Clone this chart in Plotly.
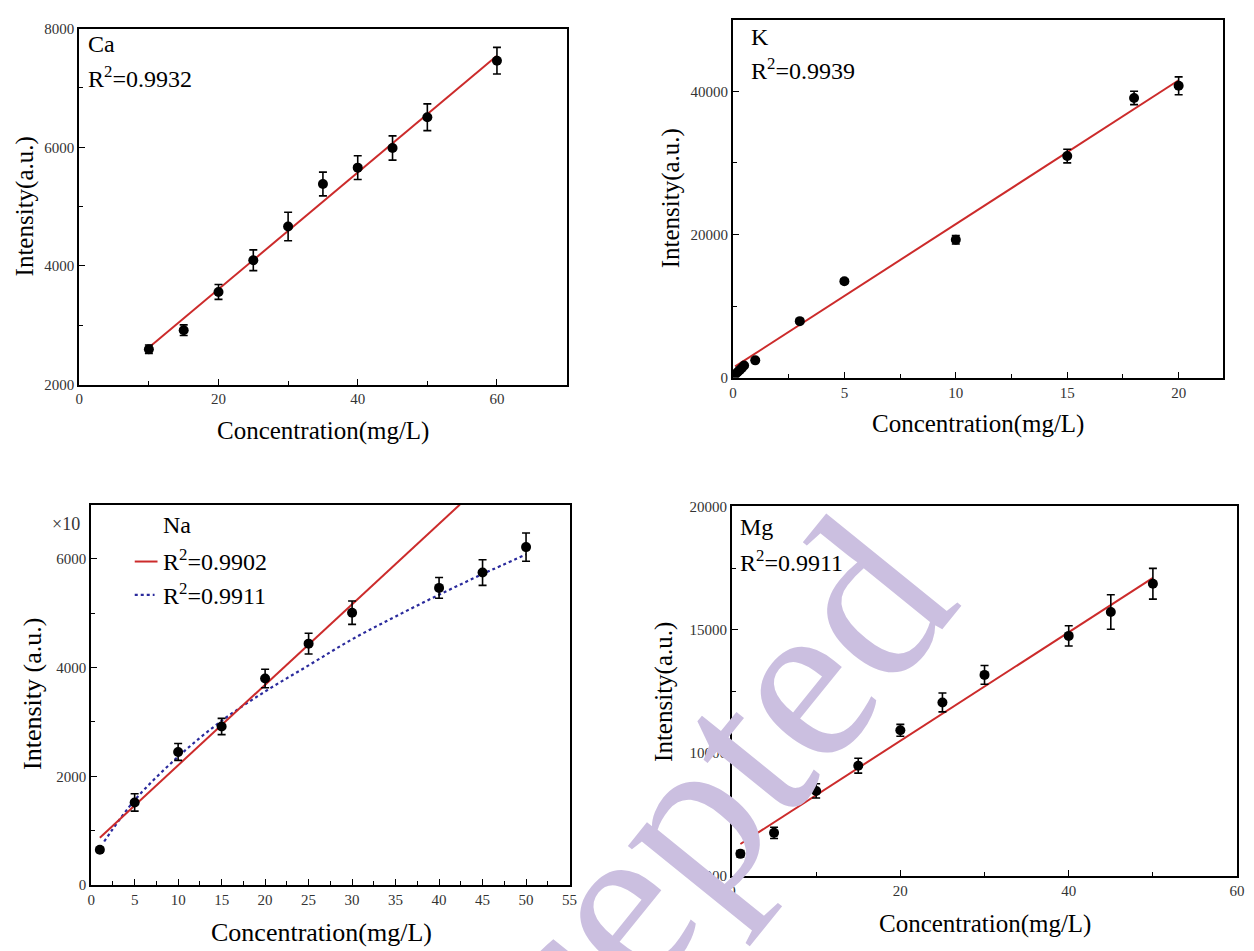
import plotly.graph_objects as go

W, H = 1254, 951
SERIF = "Liberation Serif, Times New Roman, serif"
RED = "#cc2b2b"
BLUE = "#2a2a9c"
WM = "#cbbfe0"

# ---------------- data ----------------
# Ca
ca_x = [10, 15, 20, 25, 30, 35, 40, 45, 50, 60]
ca_y = [2596, 2916, 3561, 4096, 4664, 5381, 5657, 5988, 6506, 7460]
ca_err = [70, 90, 125, 175, 240, 200, 200, 205, 225, 225]
ca_fit_x = [10, 60]
ca_fit_y = [2623, 7543]

# K
k_x = [0.1, 0.2, 0.3, 0.4, 0.5, 1, 3, 5, 10, 15, 18, 20]
k_y = [450, 750, 1050, 1350, 1700, 2420, 7900, 13470, 19270, 30960, 39085, 40774]
k_err = [60, 80, 100, 120, 150, 200, 300, 300, 600, 950, 930, 1250]
k_fit_x = [0.1, 20]
k_fit_y = [1570, 41550]

# Na
na_x = [1, 5, 10, 15, 20, 25, 30, 40, 45, 50]
na_y = [648, 1518, 2448, 2916, 3798, 4440, 5010, 5466, 5748, 6216]
na_err = [40, 160, 155, 150, 170, 190, 215, 190, 235, 260]
na_fit1_x = [1, 42.4]
na_fit1_y = [870, 7000]
na_fit2_x = [1.5, 5, 10, 15, 20, 25, 30, 35, 40, 45, 50]
na_fit2_y = [800, 1560, 2360, 3020, 3560, 4040, 4520, 4940, 5340, 5720, 6080]

# Mg
mg_x = [1, 5, 10, 15, 20, 25, 30, 40, 45, 50]
mg_y = [5904, 6756, 8458, 9482, 10918, 12049, 13166, 14749, 15720, 16864]
mg_err = [130, 230, 290, 300, 240, 385, 380, 410, 700, 625]
mg_fit_x = [1, 50]
mg_fit_y = [6303, 17103]

# ---------------- layout helpers ----------------
def px(x):
    return x / W

def py(y):
    return 1 - y / H

# panel frames in pixels: left, right, top, bottom
boxes = {
    1: (76, 568, 21, 383),
    2: (736, 1231, 12, 376),
    3: (88, 571, 505, 892),
    4: (735, 1245, 507, 883),
}

fig = go.Figure()

def add_panel(i, xs, ys, errs, fx, fy):
    xa = "x" if i == 1 else f"x{i}"
    ya = "y" if i == 1 else f"y{i}"
    fig.add_trace(go.Scatter(x=fx, y=fy, mode="lines", line=dict(color=RED, width=2),
                             xaxis=xa, yaxis=ya, showlegend=False))
    fig.add_trace(go.Scatter(x=xs, y=ys, mode="markers",
                             marker=dict(color="black", size=10),
                             error_y=dict(type="data", array=errs, color="black",
                                          thickness=1.6, width=4),
                             xaxis=xa, yaxis=ya, showlegend=False))

add_panel(1, ca_x, ca_y, ca_err, ca_fit_x, ca_fit_y)
add_panel(2, k_x, k_y, k_err, k_fit_x, k_fit_y)
# Na: dotted curve first
fig.add_trace(go.Scatter(x=na_fit2_x, y=na_fit2_y, mode="lines",
                         line=dict(color=BLUE, width=2.2, dash="dot", shape="spline"),
                         xaxis="x3", yaxis="y3", showlegend=False))
add_panel(3, na_x, na_y, na_err, na_fit1_x, na_fit1_y)
add_panel(4, mg_x, mg_y, mg_err, mg_fit_x, mg_fit_y)

def axis(i, which, rng, dtick, minor_dtick):
    l, r, t, b = boxes[i]
    d = dict(range=rng, dtick=dtick, tick0=0, tickformat="d",
             showline=True, linecolor="black", linewidth=1.8, mirror=True,
             ticks="inside", ticklen=6, tickwidth=1.3, tickcolor="black",
             showgrid=False, zeroline=False,
             tickfont=dict(family=SERIF, size=15, color="#333333"),
             minor=dict(ticks="inside", ticklen=4, tickwidth=1.1, tickcolor="black", dtick=minor_dtick),
             fixedrange=True)
    if which == "x":
        d["domain"] = [px(l), px(r)]
        d["anchor"] = "y" if i == 1 else f"y{i}"
    else:
        d["domain"] = [py(b), py(t)]
        d["anchor"] = "x" if i == 1 else f"x{i}"
    return d

lay = dict(width=W, height=H, margin=dict(l=0, r=0, t=0, b=0),
           paper_bgcolor="white", plot_bgcolor="white", showlegend=False,
           font=dict(family=SERIF))
lay["xaxis"] = axis(1, "x", [0, 70], 20, 10)
lay["yaxis"] = axis(1, "y", [2000, 8000], 2000, 1000)
lay["xaxis2"] = axis(2, "x", [0, 22], 5, 2.5)
lay["yaxis2"] = axis(2, "y", [0, 50000], 20000, 10000)
lay["xaxis3"] = axis(3, "x", [0, 55], 5, 2.5)
lay["yaxis3"] = axis(3, "y", [0, 7000], 2000, 1000)
lay["xaxis4"] = axis(4, "x", [0, 60], 20, 10)
lay["yaxis4"] = axis(4, "y", [5000, 20000], 5000, 2500)
fig.update_layout(**lay)

ann = []
def text(x, y, s, size=24, xanchor="left", angle=0, color="black"):
    ann.append(dict(x=px(x), y=py(y), xref="paper", yref="paper", text=s, showarrow=False,
                    xanchor=xanchor, yanchor="middle", textangle=angle,
                    font=dict(family=SERIF, size=size, color=color)))

# axis titles
text(322, 430, "Concentration(mg/L)", 25, "center")
text(21, 202, "Intensity(a.u.)", 25, "center", -90)
text(983, 423, "Concentration(mg/L)", 25, "center")
text(673, 194, "Intensity(a.u.)", 25, "center", -90)
text(321, 940, "Concentration(mg/L)", 26, "center")
text(29, 698, "Intensity (a.u.)", 26, "center", -90)
text(990, 932, "Concentration(mg/L)", 25, "center")
text(667, 696, "Intensity(a.u.)", 25, "center", -90)

# panel labels
text(83, 37, "Ca")
text(83, 70, "R<sup>2</sup>=0.9932")
text(752, 29, "K")
text(752, 62, "R<sup>2</sup>=0.9939")
text(159, 526, "Na")
text(159, 561, "R<sup>2</sup>=0.9902")
text(159, 596, "R<sup>2</sup>=0.9911")
text(741, 528, "Mg")
text(741, 562, "R<sup>2</sup>=0.9911")
text(79, 525, "\u00d710", 18, "right", color="#333333")

# watermark
ann.append(dict(x=px(624), y=py(906), xref="paper", yref="paper", text="Accepted", showarrow=False,
                xanchor="center", yanchor="middle", textangle=-51,
                font=dict(family=SERIF, size=235, color=WM)))

fig.update_layout(annotations=ann)

shapes = [
    dict(type="line", xref="paper", yref="paper", x0=px(132), x1=px(155), y0=py(563), y1=py(563),
         line=dict(color=RED, width=2)),
    dict(type="line", xref="paper", yref="paper", x0=px(132), x1=px(152), y0=py(597), y1=py(597),
         line=dict(color=BLUE, width=2.2, dash="dot")),
]
fig.update_layout(shapes=shapes)

fig.write_html("out.html")
